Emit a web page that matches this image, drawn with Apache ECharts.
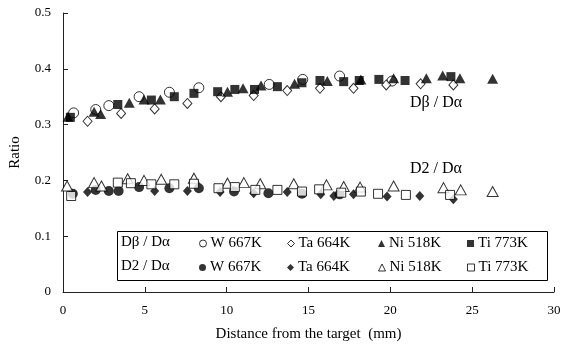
<!DOCTYPE html>
<html><head><meta charset="utf-8">
<script src="https://cdn.jsdelivr.net/npm/echarts@6/dist/echarts.min.js"></script>
<style>html,body{margin:0;padding:0;background:#fff}#c{width:568px;height:350px}</style>
</head><body><div id="c"></div>
<script>
// ---- data (distance mm, ratio) ----
const xAxisMin = 0, xAxisMax = 30, xAxisStep = 5;
const yAxisMin = 0, yAxisMax = 0.5, yAxisStep = 0.1;
const xTitle = 'Distance from the target  (mm)';
const yTitle = 'Ratio';
const materials = ['W 667K', 'Ta 664K', 'Ni 518K', 'Ti 773K'];
const groupLabels = ['Dβ / Dα', 'D2 / Dα'];

// Dβ / Dα
const betaW  = [[0.65,0.321],[2.0,0.327],[2.8,0.334],[4.65,0.350],[6.5,0.358],[8.3,0.366],[12.6,0.372],[14.65,0.381],[16.9,0.387],[20.1,0.378]];
const betaTa = [[1.5,0.306],[3.55,0.320],[5.6,0.328],[7.6,0.338],[9.65,0.350],[11.65,0.352],[13.7,0.361],[15.7,0.365],[17.75,0.365],[19.75,0.371],[21.85,0.373],[23.85,0.371]];
const betaNi = [[0.3,0.314],[1.9,0.323],[2.3,0.319],[4.05,0.339],[4.95,0.345],[5.95,0.345],[10.05,0.359],[11.0,0.365],[12.1,0.370],[14.15,0.373],[16.15,0.378],[18.2,0.381],[20.2,0.383],[22.2,0.383],[23.2,0.388],[24.25,0.383],[26.25,0.382]];
const betaTi = [[0.45,0.313],[3.35,0.336],[5.4,0.344],[6.8,0.350],[8.0,0.356],[9.45,0.359],[10.5,0.363],[11.7,0.363],[13.1,0.368],[14.6,0.375],[15.7,0.379],[17.15,0.377],[18.1,0.379],[19.3,0.381],[20.9,0.379],[23.7,0.386]];

// D2 / Dα
const d2W  = [[0.6,0.176],[2.0,0.183],[2.8,0.181],[3.4,0.181],[4.65,0.188],[6.5,0.186],[8.3,0.186],[10.45,0.180],[12.55,0.177],[14.6,0.176],[16.9,0.175]];
const d2Ta = [[1.5,0.179],[5.6,0.181],[7.6,0.181],[9.6,0.179],[11.65,0.177],[13.7,0.179],[15.75,0.175],[16.55,0.172],[17.75,0.175],[19.8,0.171],[21.8,0.172],[23.85,0.166]];
const d2Ni = [[0.25,0.190],[1.9,0.196],[2.35,0.190],[3.95,0.203],[4.95,0.200],[6.0,0.202],[8.0,0.204],[10.05,0.195],[11.05,0.196],[12.05,0.194],[14.1,0.194],[16.1,0.192],[17.15,0.189],[18.15,0.188],[20.2,0.190],[23.25,0.187],[24.3,0.183],[26.25,0.180]];
const d2Ti = [[0.5,0.172],[3.35,0.196],[4.15,0.195],[5.4,0.193],[6.8,0.193],[8.0,0.194],[9.5,0.186],[10.5,0.188],[11.75,0.183],[13.1,0.183],[14.6,0.180],[15.65,0.184],[17.0,0.178],[18.2,0.180],[19.25,0.176],[20.95,0.174],[23.65,0.174]];

const FONT = 'Liberation Serif';
const FILLED = {color:'#000', borderColor:'#000', borderWidth:0};
const OPEN = {color:'#fff', borderColor:'#000', borderWidth:1};

const seriesDefs = [
  {data:betaW,  symbol:'circle',   size:10, style:OPEN},
  {data:betaTa, symbol:'diamond',  size:[9,10], style:OPEN},
  {data:betaNi, symbol:'triangle', size:[11,10], style:FILLED},
  {data:betaTi, symbol:'rect',     size:9, style:FILLED},
  {data:d2W,  symbol:'circle',   size:10, style:FILLED},
  {data:d2Ta, symbol:'diamond',  size:[9,10], style:FILLED},
  {data:d2Ni, symbol:'triangle', size:[11,10], style:OPEN},
  {data:d2Ti, symbol:'rect',     size:9, style:OPEN}
];
const names = seriesDefs.map((s,i)=> (i<4?'β ':'2 ') + materials[i%4]);

const legendLeft = [199, 287, 378, 467];
const rowY = [244, 268];
const legends = names.map((n,i)=>({
  data:[{name:n, icon:seriesDefs[i].symbol, itemStyle: Object.assign({}, seriesDefs[i].style)}],
  left:legendLeft[i%4], top:rowY[Math.floor(i/4)]-8,
  itemWidth:7, itemHeight:7, itemGap:0, padding:0, selectedMode:false,
  formatter: nm => nm.slice(2),
  textStyle:{fontFamily:FONT, fontSize:15, color:'#000', padding:[0,0,0,-1]}
}));

const chart = echarts.init(document.getElementById('c'), null, {renderer:'canvas'});
chart.setOption({
  backgroundColor:'#fff',
  animation:false,
  grid:{left:61, right:14, top:13, bottom:58},
  xAxis:{type:'value', min:xAxisMin, max:xAxisMax, interval:xAxisStep,
    name:xTitle, nameLocation:'middle', nameGap:35,
    nameTextStyle:{fontFamily:FONT, fontSize:15, color:'#000'},
    axisLine:{lineStyle:{color:'#222', width:1}},
    axisTick:{inside:true, length:5, lineStyle:{color:'#222'}},
    axisLabel:{fontFamily:FONT, fontSize:13, color:'#000', margin:12},
    splitLine:{show:false}},
  yAxis:{type:'value', min:yAxisMin, max:yAxisMax, interval:yAxisStep,
    name:yTitle, nameLocation:'middle', nameGap:40, nameRotate:90,
    nameTextStyle:{fontFamily:FONT, fontSize:15, color:'#000'},
    axisLine:{show:true, lineStyle:{color:'#222', width:1}},
    axisTick:{show:true, inside:true, length:5, lineStyle:{color:'#222'}},
    axisLabel:{fontFamily:FONT, fontSize:13, color:'#000', margin:12},
    splitLine:{show:false}},
  legend: legends,
  series: seriesDefs.map((s,i)=>({
    type:'scatter', name:names[i], data:s.data, symbol:s.symbol, symbolSize:s.size,
    itemStyle:s.style, z: 2 + i
  })),
  graphic:[
    {type:'rect', shape:{x:117.5, y:231.5, width:430, height:49}, style:{fill:'none', stroke:'#000', lineWidth:1}, z:1},
    {type:'text', left:121, top:rowY[0]-9, style:{text:groupLabels[0], font:'15px "Liberation Serif"', fill:'#000'}},
    {type:'text', left:121, top:rowY[1]-9, style:{text:groupLabels[1], font:'15px "Liberation Serif"', fill:'#000'}},
    {type:'text', left:410, top:95, style:{text:groupLabels[0], font:'16px "Liberation Serif"', fill:'#000'}},
    {type:'text', left:410, top:161, style:{text:groupLabels[1], font:'16px "Liberation Serif"', fill:'#000'}}
  ]
});
</script></body></html>
